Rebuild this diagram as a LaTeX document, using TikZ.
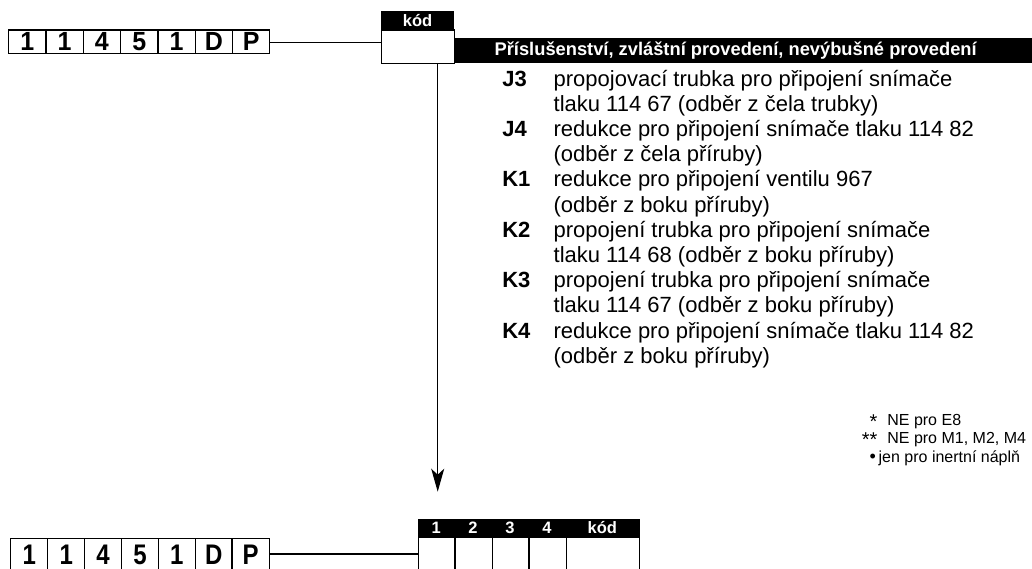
\documentclass[tikz,border=0pt]{standalone}
\usepackage{fontspec}
\setmainfont{Liberation Sans}
\usetikzlibrary{arrows.meta}
\begin{document}
\begin{tikzpicture}[x=1pt,y=-1pt,line width=1.3pt,
  digbox/.style={draw,fill=white,minimum width=37.3pt,minimum height=23.4pt,inner sep=0pt,anchor=north west,font=\fontsize{25}{25}\selectfont\bfseries},
  digboxlow/.style={draw,fill=white,minimum width=37.3pt,minimum height=36pt,inner sep=0pt,anchor=north west},
  cellbox/.style={draw,fill=white,minimum height=36pt,inner sep=0pt,anchor=north west},
  hdr/.style={text=white,font=\fontsize{16.5}{16.5}\selectfont\bfseries,anchor=base,inner sep=0pt},
  lab/.style={anchor=base west,inner sep=0pt,font=\fontsize{22}{22}\selectfont\bfseries},
  itm/.style={anchor=base west,inner sep=0pt,font=\fontsize{22}{22}\selectfont},
  fn/.style={anchor=base west,inner sep=0pt,font=\fontsize{16}{16}\selectfont},
  fnmark/.style={anchor=base east,inner sep=0pt,font=\fontsize{20}{20}\selectfont},
  conn/.style={line width=1.3pt}]
\useasboundingbox (0,0) rectangle (1032,568);
\clip (0,0) rectangle (1032,568);

% ---- top code row
\foreach \t [count=\i from 0] in {1,1,4,5,1,D,P}{
  \node[digbox] (t\i) at ({8+37.3*\i},29.3) {\scalebox{1}[1.05]{\t}};
}
% kód box
\fill (380.7,11) rectangle (454.3,29.3);
\node[hdr] (kodlbl) at (417.5,26) {kód};
\node[draw,fill=white,minimum width=73pt,minimum height=33.4pt,inner sep=0pt,anchor=north west] (kodbox) at (380.7,29.3) {};
\draw[conn] (t6.east |- 0,42.3) -- (kodbox.west |- 0,42.3);

% banner
\fill (454.3,37.7) rectangle (1032,62.7);
\node[anchor=base west,inner sep=0pt,text=white,font=\fontsize{18.3}{18.3}\selectfont\bfseries] (banner) at (494,55) {Příslušenství, zvláštní provedení, nevýbušné provedení};

% arrow
\coordinate (arrtip) at (437.7,491.7);
\draw[conn,-{Stealth[length=23pt,width=13pt,inset=6pt]}] (kodbox.south -| arrtip) -- (arrtip);

% items
\def\lx{501.7}
\def\tx{553}
\foreach \k/\l/\txt in {
  0/J3/{propojovací trubka pro připojení snímače},
  1//{tlaku 114 67 (odběr z čela trubky)},
  2/J4/{redukce pro připojení snímače tlaku 114 82},
  3//{(odběr z čela příruby)},
  4/K1/{redukce pro připojení ventilu 967},
  5//{(odběr z boku příruby)},
  6/K2/{propojení trubka pro připojení snímače},
  7//{tlaku 114 68 (odběr z boku příruby)},
  8/K3/{propojení trubka pro připojení snímače},
  9//{tlaku 114 67 (odběr z boku příruby)},
  10/K4/{redukce pro připojení snímače tlaku 114 82},
  11//{(odběr z boku příruby)}}{
  \node[lab] (l\k) at (\lx,{86+25.2*\k}) {\l};
  \node[itm] (i\k) at (\tx,{86+25.2*\k}) {\txt};
}

% footnotes
\node[fnmark] (f1m) at (878,428) {*};
\node[fn] (f1) at (886.7,425) {NE pro E8};
\node[fnmark] (f2m) at (878,446) {**};
\node[fn] (f2) at (886.7,443) {NE pro M1, M2, M4};
\node[fn,font=\fontsize{18}{18}\selectfont] (f3m) at (869,462.5) {•};
\node[fn] (f3) at (878,462) {jen pro inertní náplň};

% ---- bottom code row
\foreach \t [count=\i from 0] in {1,1,4,5,1,D,P}{
  \node[digboxlow] (b\i) at ({10+36.9*\i},537.5) {};
  \node[anchor=base,inner sep=0pt,font=\fontsize{24}{24}\selectfont\bfseries] (bt\i) at (b\i.north |- 0,564) {\scalebox{1}[1.18]{\t}};
}
% table
\fill (418,519) rectangle (639.5,536.7);
\foreach \j/\xa/\w/\h in {1/418/36.3/1,2/454.3/37.4/2,3/491.7/36.6/3,4/528.3/37.4/4,5/565.7/73.3/kód}{
  \node[cellbox,minimum width=\w pt] (c\j) at (\xa,536.7) {};
  \node[hdr] (h\j) at ({\xa+\w/2},533.3) {\h};
}
\draw[conn] (b6.east |- 0,554) -- (c1.west |- 0,554);
\end{tikzpicture}
\end{document}
